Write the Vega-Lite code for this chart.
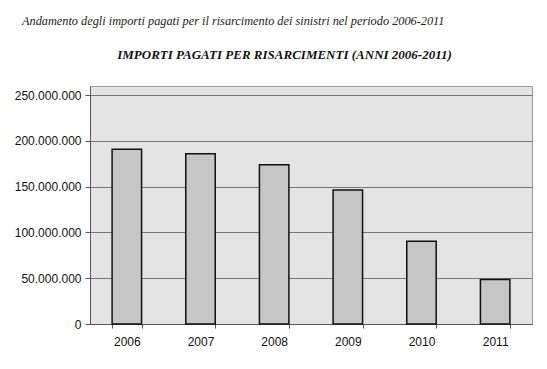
{
  "$schema": "https://vega.github.io/schema/vega-lite/v6.json",
  "autosize": "none",
  "width": 442,
  "height": 238,
  "padding": {"left": 90, "top": 86, "right": 15, "bottom": 45},
  "background": "white",
  "config": {
    "view": {"fill": "#e4e4e4", "stroke": "#999999", "strokeWidth": 1},
    "font": "Liberation Sans"
  },
  "title": {
    "text": "Andamento degli importi pagati per il risarcimento dei sinistri nel periodo 2006-2011",
    "font": "Liberation Serif",
    "fontStyle": "italic",
    "fontWeight": "normal",
    "fontSize": 12.3,
    "color": "#222222",
    "anchor": "start",
    "frame": "group",
    "dx": -68,
    "offset": 21
  },
  "data": {
    "values": [
      {"anno": "2006", "importo": 191000000},
      {"anno": "2007", "importo": 186000000},
      {"anno": "2008", "importo": 174000000},
      {"anno": "2009", "importo": 146500000},
      {"anno": "2010", "importo": 90500000},
      {"anno": "2011", "importo": 48500000}
    ]
  },
  "layer": [
    {
      "mark": {"type": "bar", "fill": "#c6c6c6", "stroke": "#111111", "strokeWidth": 1.5},
      "encoding": {
        "x": {
          "field": "anno",
          "type": "ordinal",
          "scale": {"paddingInner": 0.6, "paddingOuter": 0.3},
          "axis": {
            "title": null,
            "labelAngle": 0,
            "labelFontSize": 12,
            "labelColor": "#111111",
            "labelPadding": 8,
            "tickBand": "extent",
            "tickSize": 4,
            "tickColor": "#555555",
            "domainColor": "#555555",
            "grid": false
          }
        },
        "y": {
          "field": "importo",
          "type": "quantitative",
          "scale": {"domain": [0, 250000000]},
          "axis": {
            "title": null,
            "labelExpr": "replace(format(datum.value, ',d'), regexp(',', 'g'), '.')",
            "values": [0, 50000000, 100000000, 150000000, 200000000, 250000000],
            "labelFontSize": 12,
            "labelColor": "#111111",
            "labelPadding": 4,
            "tickSize": 5,
            "tickColor": "#555555",
            "domainColor": "#555555",
            "gridColor": "#777777",
            "gridWidth": 1
          }
        }
      }
    },
    {
      "mark": {"type": "bar", "opacity": 0},
      "encoding": {
        "x": {
          "field": "anno",
          "type": "ordinal",
          "axis": {
            "orient": "top",
            "title": "IMPORTI PAGATI PER RISARCIMENTI (ANNI 2006-2011)",
            "titleFont": "Liberation Serif",
            "titleFontStyle": "italic",
            "titleFontWeight": "bold",
            "titleFontSize": 13,
            "titleColor": "#111111",
            "titleX": 194,
            "titleY": -25,
            "labels": false,
            "ticks": false,
            "domain": false
          }
        },
        "y": {"field": "importo", "type": "quantitative"}
      }
    }
  ],
  "resolve": {"axis": {"x": "independent"}}
}
